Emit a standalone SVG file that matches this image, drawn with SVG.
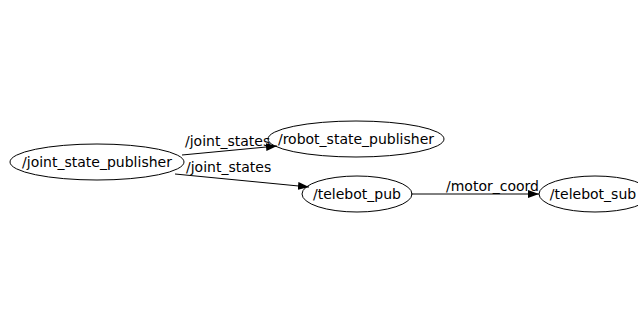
<svg xmlns="http://www.w3.org/2000/svg" width="638" height="327" viewBox="0 0 638 327">
<defs>
<style>
.n ellipse{fill:none;stroke:#000;stroke-width:1}
text{font-family:"DejaVu Sans",sans-serif;font-size:14px;fill:#000}
.n text{text-anchor:middle}
.e path{fill:none;stroke:#000;stroke-width:1}
</style>
<marker id="ah" viewBox="0 0 11 8" refX="11" refY="4" markerWidth="11" markerHeight="8" markerUnits="userSpaceOnUse" orient="auto">
<path d="M0,0 L11,4 L0,8 Z" fill="#000"/>
</marker>
</defs>
<rect width="638" height="327" fill="#fff"/>
<g id="edges" class="e">
<path d="M182,155 L277,146" marker-end="url(#ah)"/>
<text x="185" y="146">/joint_states</text>
<path d="M175,174 L309,187" marker-end="url(#ah)"/>
<text x="186" y="172">/joint_states</text>
<path d="M411,194 L539,194" marker-end="url(#ah)"/>
<text x="446" y="191">/motor_coord</text>
</g>
<g id="joint_state_publisher" class="n">
<ellipse cx="97" cy="162" rx="87" ry="18"/>
<text x="97" y="167">/joint_state_publisher</text>
</g>
<g id="robot_state_publisher" class="n">
<ellipse cx="356" cy="139" rx="88" ry="18"/>
<text x="356" y="144">/robot_state_publisher</text>
</g>
<g id="telebot_pub" class="n">
<ellipse cx="357" cy="194" rx="55" ry="18"/>
<text x="357" y="199">/telebot_pub</text>
</g>
<g id="telebot_sub" class="n">
<ellipse cx="595" cy="194" rx="56" ry="18"/>
<text x="593" y="199">/telebot_sub</text>
</g>
</svg>
